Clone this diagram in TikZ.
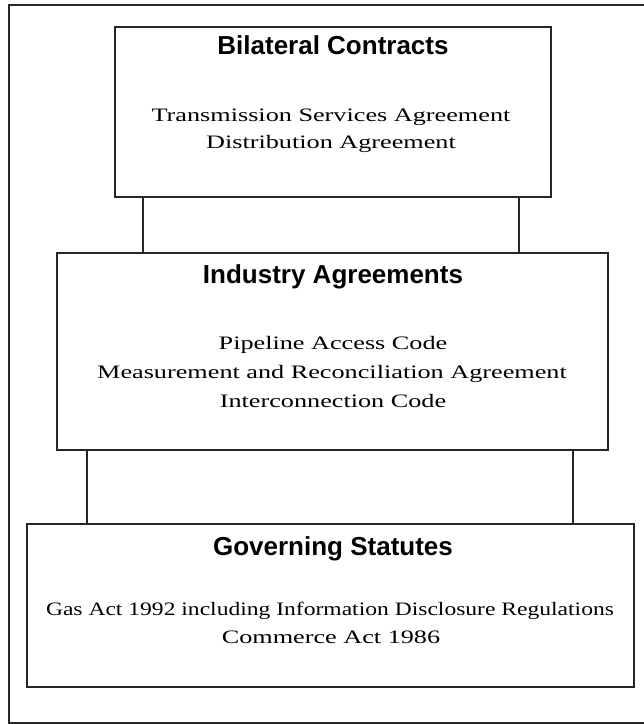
\documentclass[tikz,border=0pt]{standalone}
\usepackage{fontspec}
\newfontfamily\titlefont{Liberation Sans}
\newfontfamily\bodyfont[FakeStretch=1.38]{Liberation Serif}
\newfontfamily\bodynarrow[FakeStretch=1.24]{Liberation Serif}
\begin{document}
\begin{tikzpicture}[x=1pt,y=-1pt,
  frame/.style={draw=black!85, line width=2pt},
  tier/.style={draw=black!85, line width=2pt, fill=white, inner sep=0pt},
  link/.style={draw=black!85, line width=1.6pt},
  heading/.style={anchor=base, inner sep=0pt, font=\titlefont\bfseries\fontsize{26}{30}\selectfont},
  entry/.style={anchor=base, inner sep=0pt, font=\bodyfont\fontsize{19}{24}\selectfont},
  longentry/.style={anchor=base, inner sep=0pt, font=\bodynarrow\fontsize{19}{24}\selectfont}]
\useasboundingbox (0,0) rectangle (644,724);
% outer frame, open on the right
\draw[frame] (670,5) -- (9,5) -- (9,723) -- (670,723);

% the three tiers
\node[tier, minimum width=436pt, minimum height=170pt] (bilateral) at (333,112) {};
\node[tier, minimum width=551pt, minimum height=197pt] (industry) at (332.5,351.5) {};
\node[tier, minimum width=607pt, minimum height=163pt] (statutes) at (330.5,605.5) {};

% vertical ties between tiers
\coordinate (ta) at (143,0);
\coordinate (tb) at (519,0);
\coordinate (tc) at (87,0);
\coordinate (td) at (573,0);
\draw[link] (bilateral.south -| ta) -- (industry.north -| ta);
\draw[link] (bilateral.south -| tb) -- (industry.north -| tb);
\draw[link] (industry.south -| tc) -- (statutes.north -| tc);
\draw[link] (industry.south -| td) -- (statutes.north -| td);

% texts
\node[heading] (h1) at (333,54) {Bilateral Contracts};
\node[entry] (e11) at (331,121) {Transmission Services Agreement};
\node[entry] (e12) at (331,148) {Distribution Agreement};

\node[heading] (h2) at (333,283) {Industry Agreements};
\node[entry] (e21) at (333,349) {Pipeline Access Code};
\node[entry] (e22) at (332,378) {Measurement and Reconciliation Agreement};
\node[entry] (e23) at (333,407) {Interconnection Code};

\node[heading] (h3) at (333,555) {Governing Statutes};
\node[longentry] (e31) at (330,615) {Gas Act 1992 including Information Disclosure Regulations};
\node[entry] (e32) at (331,643) {Commerce Act 1986};
\end{tikzpicture}
\end{document}
